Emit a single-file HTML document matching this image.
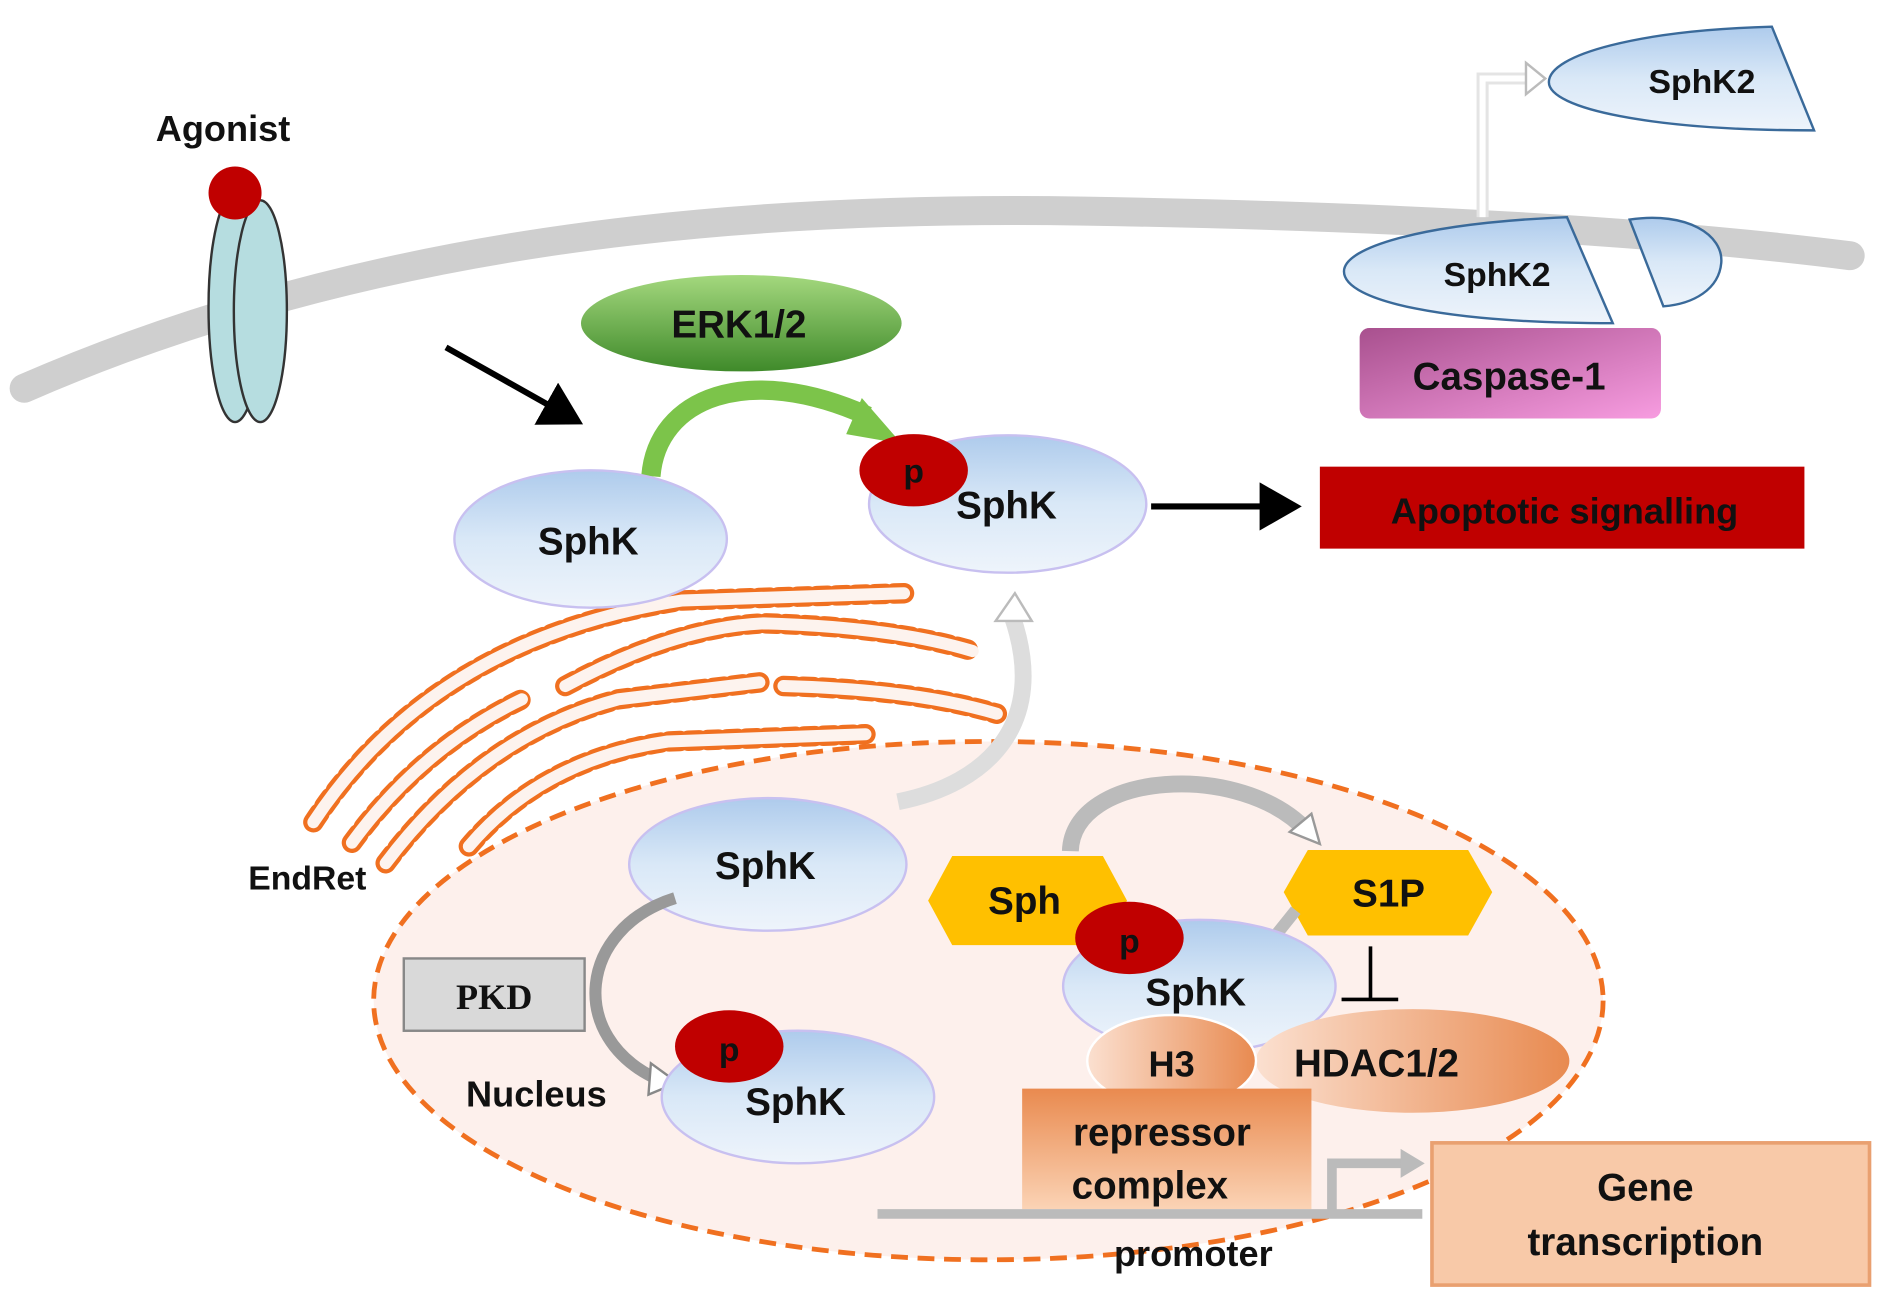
<!DOCTYPE html>
<html><head><meta charset="utf-8"><style>
html,body{margin:0;padding:0;background:#fff;}
svg{display:block;}
text{font-family:"Liberation Sans",Arial,sans-serif;font-weight:bold;fill:#111;}
</style></head><body>
<svg width="1890" height="1313" viewBox="0 0 1568 1089" xmlns="http://www.w3.org/2000/svg">
<defs>
<linearGradient id="blue" x1="0" y1="0" x2="0" y2="1"><stop offset="0" stop-color="#aecbec"/><stop offset="0.5" stop-color="#d9e8f7"/><stop offset="1" stop-color="#eef4fb"/></linearGradient>
<linearGradient id="green" x1="0" y1="0" x2="0" y2="1"><stop offset="0" stop-color="#a4d87e"/><stop offset="1" stop-color="#3f8a2a"/></linearGradient>
<linearGradient id="pink" x1="0" y1="0" x2="1" y2="1"><stop offset="0" stop-color="#a8508e"/><stop offset="1" stop-color="#f79ce0"/></linearGradient>
<linearGradient id="orange" x1="0" y1="0" x2="1" y2="0"><stop offset="0" stop-color="#fbe0d0"/><stop offset="1" stop-color="#e88a50"/></linearGradient>
<linearGradient id="orange2" x1="0" y1="0" x2="0" y2="1"><stop offset="0" stop-color="#e98a4f"/><stop offset="1" stop-color="#fbd3b5"/></linearGradient>
<marker id="ah" markerWidth="8" markerHeight="8" refX="5" refY="4" orient="auto" markerUnits="strokeWidth"><path d="M0,0 L7,4 L0,8 z" fill="#000"/></marker>
</defs>

<path d="M20,322 C300,200 600,170 900,175 C1200,180 1400,195 1535,212" stroke="#cfcfcf" stroke-width="24" fill="none" stroke-linecap="round"/>

<text x="185" y="117" font-size="30" text-anchor="middle">Agonist</text>
<ellipse cx="195" cy="255" rx="22" ry="95" fill="#b6dde0" stroke="#333" stroke-width="2"/>
<ellipse cx="216" cy="258" rx="22" ry="92" fill="#b6dde0" stroke="#333" stroke-width="2"/>
<circle cx="195" cy="160" r="22" fill="#c00000"/>

<line x1="370" y1="288" x2="475" y2="347" stroke="#000" stroke-width="5" marker-end="url(#ah)"/>

<ellipse cx="615" cy="268" rx="133" ry="40" fill="url(#green)"/>
<text x="613" y="280" font-size="32" text-anchor="middle">ERK1/2</text>
<path d="M540,395 C545,330 620,300 720,345" stroke="#7cc44a" stroke-width="16" fill="none"/>
<path d="M715,330 L748,368 L702,360 z" fill="#7cc44a"/>

<ellipse cx="820" cy="830" rx="510" ry="215" fill="#fdf0ec" stroke="#f07020" stroke-width="4" stroke-dasharray="14,8"/>

<g fill="none" stroke-linecap="round">
<g stroke="#f07020" stroke-width="17" stroke-dasharray="9,7">
<path d="M260,682 Q360,530 566,498 L750,492"/>
<path d="M469,569 Q560,520 634,517 Q740,520 807,540"/>
<path d="M292,699 Q350,620 433,580"/>
<path d="M320,716 Q400,610 513,580 L630,566"/>
<path d="M650,569 Q760,572 827,592"/>
<path d="M389,702 Q450,630 554,615 L718,609"/>
</g>
<g stroke="#fdf3ee" stroke-width="10">
<path d="M260,682 Q360,530 566,498 L750,492"/>
<path d="M469,569 Q560,520 634,517 Q740,520 807,540"/>
<path d="M292,699 Q350,620 433,580"/>
<path d="M320,716 Q400,610 513,580 L630,566"/>
<path d="M650,569 Q760,572 827,592"/>
<path d="M389,702 Q450,630 554,615 L718,609"/>
</g>
</g>

<ellipse cx="490" cy="447" rx="113" ry="57" fill="url(#blue)" stroke="#c8c0f0" stroke-width="2"/>
<text x="488" y="460" font-size="32" text-anchor="middle">SphK</text>
<ellipse cx="836" cy="418" rx="115" ry="57" fill="url(#blue)" stroke="#c8c0f0" stroke-width="2"/>
<ellipse cx="758" cy="390" rx="45" ry="30" fill="#c00000"/>
<text x="758" y="400" font-size="28" text-anchor="middle">p</text>
<text x="835" y="430" font-size="32" text-anchor="middle">SphK</text>
<line x1="955" y1="420" x2="1070" y2="420" stroke="#000" stroke-width="5" marker-end="url(#ah)"/>
<rect x="1095" y="387" width="402" height="68" fill="#c00000"/>
<text x="1298" y="434" font-size="30" text-anchor="middle">Apoptotic signalling</text>

<path d="M1230,180 L1230,65 L1270,65" stroke="#e4e4e4" stroke-width="10" fill="none"/>
<path d="M1230,180 L1230,65 L1270,65" stroke="#fff" stroke-width="5" fill="none"/>
<path d="M1266,52 L1282,65 L1266,78 z" fill="#fff" stroke="#bbb" stroke-width="2"/>
<path d="M1470,22 C1360,25 1285,45 1285,68 C1285,90 1370,108 1505,108 Z" fill="url(#blue)" stroke="#3a6a9a" stroke-width="2"/>
<text x="1412" y="77" font-size="28" text-anchor="middle">SphK2</text>
<path d="M1300,180 C1180,185 1115,205 1115,225 C1115,250 1200,268 1338,268 Z" fill="url(#blue)" stroke="#3a6a9a" stroke-width="2"/>
<text x="1242" y="237" font-size="28" text-anchor="middle">SphK2</text>
<path d="M1352,182 C1400,175 1430,195 1428,218 C1426,240 1405,252 1380,254 Z" fill="url(#blue)" stroke="#3a6a9a" stroke-width="2"/>
<rect x="1128" y="272" width="250" height="75" rx="8" fill="url(#pink)"/>
<text x="1252" y="323" font-size="32" text-anchor="middle">Caspase-1</text>

<text x="255" y="738" font-size="28" text-anchor="middle">EndRet</text>

<path d="M745,665 C820,650 870,600 840,512" stroke="#ddd" stroke-width="14" fill="none"/>
<path d="M826,515 L842,492 L856,515 z" fill="#fff" stroke="#bbb" stroke-width="2"/>

<ellipse cx="637" cy="717" rx="115" ry="55" fill="url(#blue)" stroke="#c8c0f0" stroke-width="2"/>
<text x="635" y="729" font-size="32" text-anchor="middle">SphK</text>
<path d="M560,745 C480,770 470,860 545,895" stroke="#999" stroke-width="10" fill="none"/>
<path d="M540,882 L562,898 L538,908 z" fill="#fff" stroke="#888" stroke-width="2"/>
<rect x="335" y="795" width="150" height="60" fill="#d9d9d9" stroke="#888" stroke-width="2"/>
<text x="410" y="837" font-size="30" text-anchor="middle" style="font-family:'Liberation Serif',serif">PKD</text>
<text x="445" y="918" font-size="30" text-anchor="middle">Nucleus</text>
<ellipse cx="662" cy="910" rx="113" ry="55" fill="url(#blue)" stroke="#c8c0f0" stroke-width="2"/>
<ellipse cx="605" cy="868" rx="45" ry="30" fill="#c00000"/>
<text x="605" y="880" font-size="28" text-anchor="middle">p</text>
<text x="660" y="925" font-size="32" text-anchor="middle">SphK</text>

<path d="M888,706 C890,640 1030,630 1085,690" stroke="#bbb" stroke-width="14" fill="none"/>
<path d="M1070,690 L1095,700 L1088,675 z" fill="#fff" stroke="#999" stroke-width="2"/>
<polygon points="790,710 915,710 935,747 915,784 790,784 770,747" fill="#ffc000"/>
<text x="850" y="758" font-size="32" text-anchor="middle">Sph</text>
<polygon points="1085,705 1218,705 1238,740 1218,776 1085,776 1065,740" fill="#ffc000"/>
<text x="1152" y="752" font-size="32" text-anchor="middle">S1P</text>
<path d="M1055,780 L1075,755" stroke="#bbb" stroke-width="10"/>
<ellipse cx="995" cy="818" rx="113" ry="55" fill="url(#blue)" stroke="#c8c0f0" stroke-width="2"/>
<ellipse cx="937" cy="778" rx="45" ry="30" fill="#c00000"/>
<text x="937" y="790" font-size="28" text-anchor="middle">p</text>
<text x="992" y="834" font-size="32" text-anchor="middle">SphK</text>
<line x1="1137" y1="785" x2="1137" y2="828" stroke="#000" stroke-width="3"/>
<line x1="1113" y1="829" x2="1160" y2="829" stroke="#000" stroke-width="3"/>
<ellipse cx="1172" cy="880" rx="130" ry="43" fill="url(#orange)"/>
<text x="1142" y="893" font-size="32" text-anchor="middle">HDAC1/2</text>
<ellipse cx="972" cy="880" rx="70" ry="38" fill="url(#orange)" stroke="#fff" stroke-width="2"/>
<text x="972" y="893" font-size="30" text-anchor="middle">H3</text>
<rect x="848" y="903" width="240" height="100" fill="url(#orange2)"/>
<text x="964" y="950" font-size="32" text-anchor="middle">repressor</text>
<text x="954" y="994" font-size="32" text-anchor="middle">complex</text>
<line x1="728" y1="1007" x2="1180" y2="1007" stroke="#bbb" stroke-width="8"/>
<path d="M1105,1005 L1105,965 L1165,965" stroke="#bbb" stroke-width="8" fill="none"/>
<path d="M1162,953 L1182,965 L1162,977 z" fill="#bbb"/>
<text x="990" y="1050" font-size="30" text-anchor="middle">promoter</text>
<rect x="1188" y="948" width="363" height="118" fill="#f8c9a8" stroke="#e9a070" stroke-width="3"/>
<text x="1365" y="996" font-size="32" text-anchor="middle">Gene</text>
<text x="1365" y="1041" font-size="32" text-anchor="middle">transcription</text>
</svg>
</body></html>
